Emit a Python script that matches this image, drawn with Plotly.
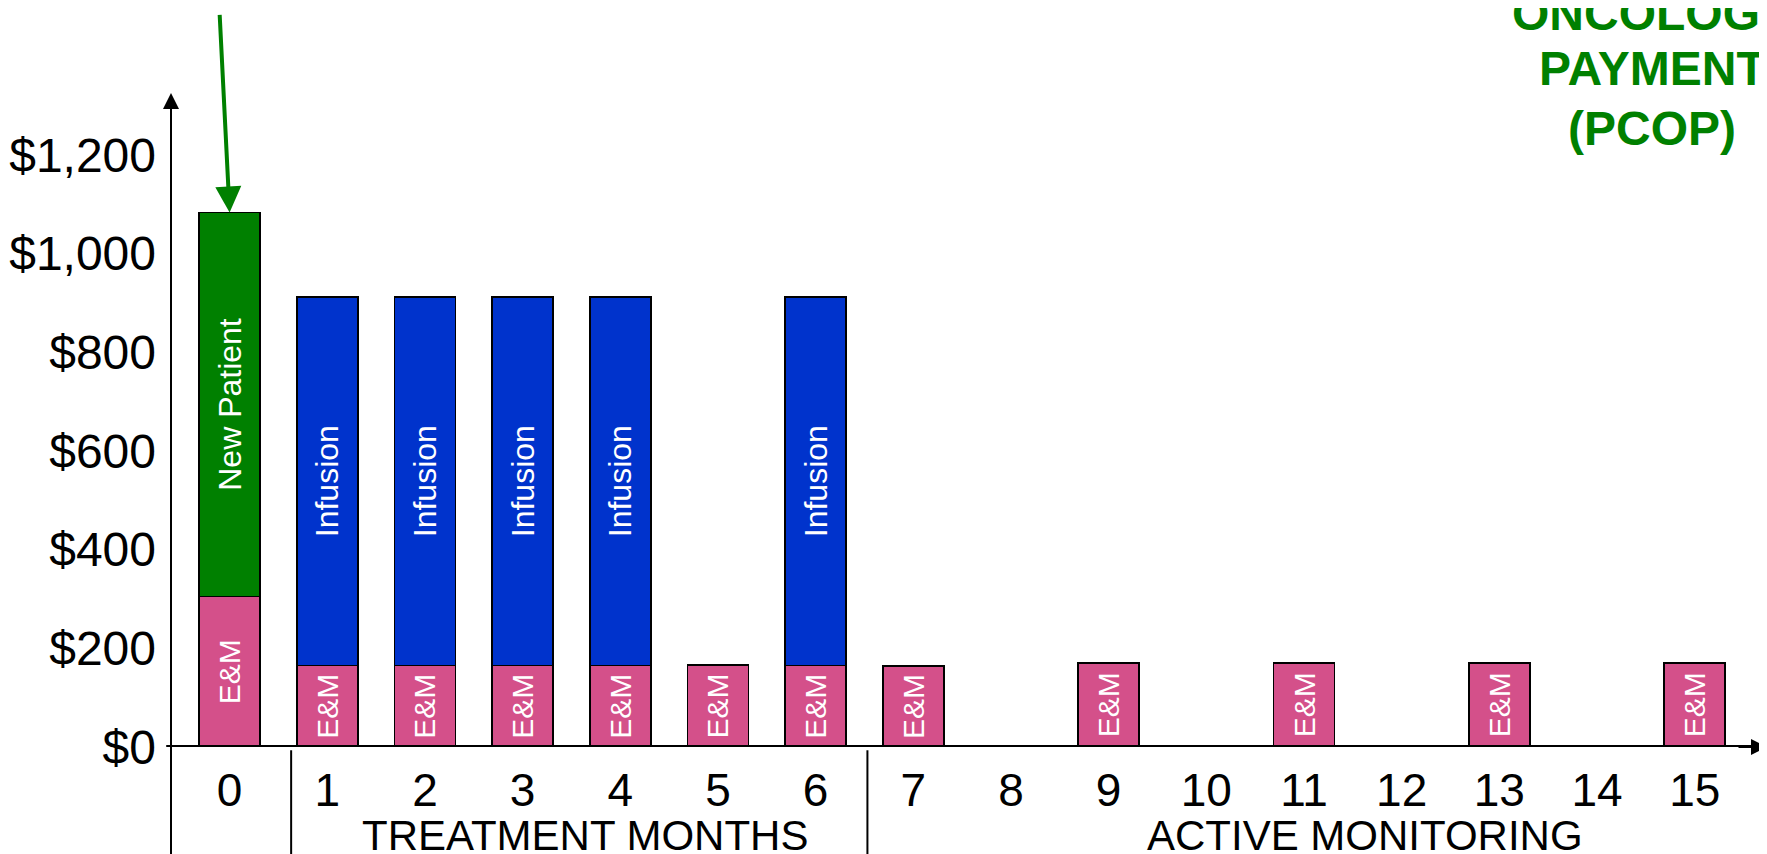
import plotly.graph_objects as go

months = list(range(16))
month_labels = [str(m) for m in months]
em_values = [305, 165, 165, 165, 165, 166, 165, 164, None, 171, None, 171, None, 171, None, 171]
new_patient_values = [778] + [None] * 15
infusion_values = [None, 747, 747, 747, 747, None, 747] + [None] * 9
y_tick_vals = [0, 200, 400, 600, 800, 1000, 1200]
y_tick_text = ["$0", "$200", "$400", "$600", "$800", "$1,000", "$1,200"]
group_labels = ["TREATMENT MONTHS", "ACTIVE MONITORING"]
group_label_x = [3.64, 11.62]
divider_x = [0.63, 6.53, 15.69]
title_lines = ["ONCOLOGY", "PAYMENT", "(PCOP)"]
title_line_y = [1.121, 1.0367, 0.946]

FONT = "Arial, Liberation Sans, sans-serif"
PINK = "#D4508A"
BLUE = "#0033CC"
GREEN = "#008000"

fig = go.Figure()
line = dict(color="black", width=1.8)

fig.add_bar(x=months, y=em_values, marker=dict(color=PINK, line=line),
            text=["E&M" if v else "" for v in em_values],
            textposition="inside", insidetextanchor="middle", textangle=-90,
            textfont=dict(color="white", size=30, family=FONT), name="E&M")
fig.add_bar(x=months, y=new_patient_values, marker=dict(color=GREEN, line=line),
            text=["New Patient" if v else "" for v in new_patient_values],
            textposition="inside", insidetextanchor="middle", textangle=-90,
            textfont=dict(color="white", size=32, family=FONT), name="New Patient")
fig.add_bar(x=months, y=infusion_values, marker=dict(color=BLUE, line=line),
            text=["Infusion" if v else "" for v in infusion_values],
            textposition="inside", insidetextanchor="middle", textangle=-90,
            textfont=dict(color="white", size=32, family=FONT), name="Infusion")

shapes = []
shapes.append(dict(type="line", xref="paper", yref="y", x0=-0.003, x1=1.0, y0=0, y1=0,
                   line=dict(color="black", width=4)))
shapes.append(dict(type="line", xref="paper", yref="paper", x0=0, x1=0, y0=0.985, y1=-0.3,
                   line=dict(color="black", width=2)))
for dx in divider_x:
    shapes.append(dict(type="line", xref="x", yref="paper", x0=dx, x1=dx, y0=-0.005, y1=-0.3,
                       line=dict(color="black", width=2)))

annotations = []
annotations.append(dict(x=0, y=em_values[0] + new_patient_values[0], xref="x", yref="y",
                        text="", showarrow=True, ax=-10, ay=-199, axref="pixel", ayref="pixel",
                        arrowhead=2, arrowwidth=4, arrowsize=1.3, arrowcolor=GREEN))
annotations.append(dict(x=0, y=1, xref="paper", yref="paper", text="", showarrow=True,
                        ax=0, ay=30, arrowhead=2, arrowwidth=2, arrowsize=1.6, arrowcolor="black"))
annotations.append(dict(x=1.0, y=0, xref="paper", yref="y", text="", showarrow=True,
                        ax=-30, ay=0, arrowhead=2, arrowwidth=2, arrowsize=1.6, arrowcolor="black"))
for lab, gx in zip(group_labels, group_label_x):
    annotations.append(dict(x=gx, y=-0.1346, xref="x", yref="paper", text=lab, showarrow=False,
                            xanchor="center", yanchor="middle",
                            font=dict(size=42, color="black", family=FONT)))
for t, ty in zip(title_lines, title_line_y):
    annotations.append(dict(x=0.928, y=ty, xref="paper", yref="paper", text="<b>" + t + "</b>",
                            showarrow=False, xanchor="center", yanchor="middle",
                            font=dict(size=48, color=GREEN, family=FONT)))

fig.update_layout(
    width=1767, height=854,
    margin=dict(l=163, r=8, t=85, b=115, autoexpand=False),
    barmode="stack", bargap=0.375, showlegend=False,
    plot_bgcolor="white", paper_bgcolor="white",
    font=dict(family=FONT, color="black"),
    shapes=shapes, annotations=annotations,
    xaxis=dict(range=[-0.6, 15.74], tickvals=months, ticktext=month_labels,
               tickfont=dict(size=46, color="black", family=FONT),
               showgrid=False, zeroline=False, showline=False, ticks="",
               ticklabelstandoff=12, fixedrange=True),
    yaxis=dict(range=[0, 1325], tickvals=y_tick_vals, ticktext=y_tick_text,
               tickfont=dict(size=48, color="black", family=FONT),
               showgrid=False, zeroline=False, showline=False, ticks="",
               ticklabelstandoff=14, fixedrange=True),
)

fig.write_html("out.html")
